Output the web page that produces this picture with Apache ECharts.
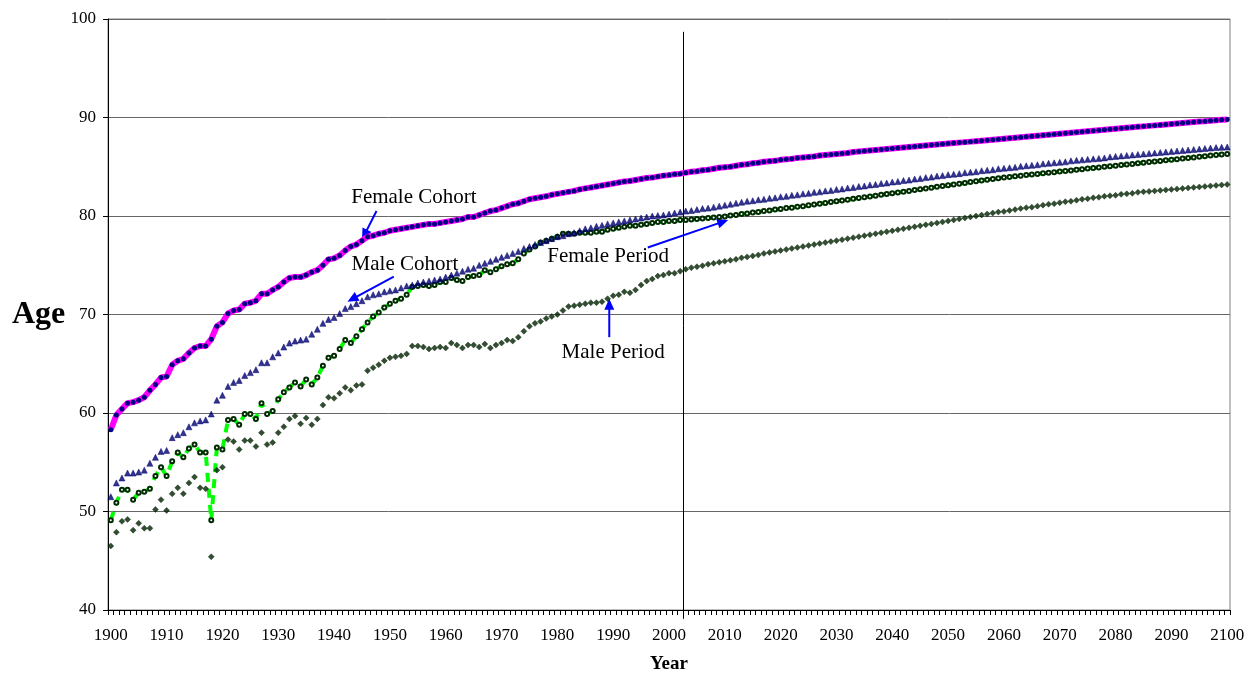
<!DOCTYPE html>
<html>
<head>
<meta charset="utf-8">
<script src="https://cdn.jsdelivr.net/npm/echarts@6/dist/echarts.min.js"></script>
<style>
html,body{margin:0;padding:0;background:#fff;}
#chart{width:1258px;height:679px;}
</style>
</head>
<body>
<div id="chart"></div>
<script>
// ---------- DATA ----------
var years = [];
for (var y = 1900; y <= 2100; y++) years.push(String(y));

var femaleCohort = [
58.3,59.8,60.4,61.0,61.1,61.3,61.6,62.3,62.9,63.6,
63.7,64.9,65.3,65.5,66.1,66.6,66.8,66.8,67.5,68.8,
69.2,70.1,70.4,70.5,71.1,71.2,71.4,72.1,72.1,72.5,
72.8,73.3,73.7,73.8,73.8,74.0,74.3,74.5,75.0,75.6,
75.7,76.0,76.5,76.9,77.1,77.5,77.9,78.0,78.2,78.3,
78.5,78.6,78.7,78.8,78.9,79.0,79.1,79.2,79.2,79.3,
79.4,79.5,79.6,79.7,79.9,79.9,80.1,80.3,80.5,80.6,
80.8,81.0,81.2,81.3,81.5,81.7,81.8,81.9,82.0,82.15,
82.25,82.35,82.45,82.55,82.7,82.8,82.9,83.0,83.1,83.2,
83.3,83.4,83.5,83.55,83.65,83.75,83.85,83.9,84.0,84.1,
84.15,84.25,84.3,84.4,84.5,84.55,84.65,84.7,84.8,84.9,
84.95,85.0,85.1,85.2,85.25,85.35,85.4,85.5,85.55,85.6,
85.7,85.75,85.8,85.9,85.95,86.0,86.05,86.15,86.2,86.25,
86.3,86.35,86.4,86.5,86.55,86.6,86.65,86.7,86.75,86.8,
86.85,86.9,86.95,87.0,87.05,87.1,87.15,87.2,87.25,87.3,
87.35,87.4,87.45,87.5,87.55,87.6,87.65,87.7,87.75,87.8,
87.85,87.9,87.95,88.0,88.05,88.1,88.15,88.2,88.25,88.3,
88.35,88.4,88.45,88.5,88.55,88.6,88.65,88.7,88.75,88.8,
88.85,88.9,88.95,89.0,89.05,89.1,89.15,89.2,89.25,89.3,
89.35,89.4,89.45,89.5,89.55,89.6,89.62,89.67,89.72,89.76,
89.8
];

var maleCohort = [
51.5,52.9,53.4,53.9,53.9,54.0,54.2,54.9,55.5,56.1,
56.2,57.5,57.8,58.0,58.6,59.0,59.2,59.3,59.9,61.3,
61.8,62.7,63.1,63.3,63.8,64.1,64.4,65.1,65.1,65.7,
66.1,66.7,67.1,67.3,67.4,67.5,68.0,68.5,69.1,69.5,
69.7,70.1,70.6,70.8,71.1,71.4,71.8,72.0,72.1,72.3,
72.4,72.5,72.7,72.9,73.0,73.2,73.3,73.4,73.5,73.6,
73.8,74.0,74.2,74.4,74.6,74.7,75.0,75.2,75.4,75.6,
75.8,76.0,76.2,76.4,76.7,76.9,77.1,77.3,77.5,77.7,
77.9,78.0,78.2,78.3,78.5,78.7,78.8,78.95,79.05,79.2,
79.3,79.4,79.5,79.6,79.7,79.8,79.9,80.0,80.05,80.1,
80.2,80.3,80.4,80.5,80.55,80.65,80.75,80.8,80.9,81.0,
81.1,81.2,81.3,81.4,81.5,81.55,81.65,81.7,81.8,81.85,
81.95,82.0,82.1,82.15,82.25,82.3,82.4,82.45,82.55,82.6,
82.7,82.75,82.85,82.9,83.0,83.05,83.15,83.2,83.3,83.35,
83.45,83.5,83.6,83.65,83.75,83.8,83.9,83.95,84.05,84.1,
84.2,84.25,84.3,84.4,84.45,84.5,84.6,84.65,84.7,84.8,
84.85,84.9,84.95,85.05,85.1,85.15,85.2,85.3,85.35,85.4,
85.45,85.5,85.6,85.65,85.7,85.75,85.8,85.85,85.9,86.0,
86.05,86.1,86.15,86.2,86.25,86.3,86.35,86.4,86.45,86.5,
86.55,86.6,86.65,86.7,86.75,86.8,86.85,86.9,86.95,86.98,
87.0
];

var femalePeriod = [
49.1,50.9,52.2,52.2,51.2,51.9,52.0,52.3,53.6,54.5,
53.6,55.1,56.0,55.5,56.4,56.8,56.0,56.0,49.1,56.5,
56.3,59.3,59.4,58.8,59.9,59.9,59.4,61.0,59.9,60.2,
61.4,62.1,62.6,63.1,62.7,63.4,62.9,63.6,64.8,65.6,
65.8,66.5,67.4,67.1,67.8,68.5,69.2,69.8,70.2,70.7,
71.1,71.4,71.6,72.0,72.8,72.9,73.0,72.9,73.0,73.3,
73.3,73.7,73.5,73.4,73.8,73.9,74.0,74.5,74.3,74.6,
74.9,75.1,75.2,75.6,76.2,76.6,76.9,77.3,77.5,77.7,
77.9,78.2,78.2,78.2,78.3,78.3,78.3,78.4,78.4,78.6,
78.7,78.8,78.9,79.0,79.0,79.1,79.2,79.3,79.4,79.4,
79.5,79.5,79.6,79.6,79.65,79.7,79.75,79.8,79.85,79.9,
79.95,80.05,80.1,80.2,80.25,80.35,80.4,80.5,80.55,80.65,
80.7,80.8,80.85,80.95,81.0,81.08,81.16,81.25,81.33,81.41,
81.49,81.57,81.65,81.74,81.82,81.9,81.98,82.06,82.15,82.23,
82.31,82.39,82.47,82.55,82.64,82.72,82.8,82.88,82.96,83.04,
83.12,83.2,83.28,83.36,83.44,83.52,83.6,83.68,83.76,83.84,
83.91,83.97,84.03,84.09,84.15,84.21,84.27,84.33,84.39,84.45,
84.51,84.57,84.63,84.69,84.75,84.81,84.87,84.93,84.99,85.05,
85.11,85.17,85.23,85.29,85.35,85.41,85.47,85.53,85.59,85.65,
85.71,85.77,85.83,85.89,85.95,86.01,86.07,86.13,86.19,86.25,
86.3
];

var malePeriod = [
46.5,47.9,49.0,49.2,48.1,48.8,48.3,48.3,50.2,51.2,
50.1,51.8,52.4,51.8,52.9,53.5,52.4,52.3,45.4,54.2,
54.5,57.3,57.1,56.3,57.2,57.2,56.6,58.0,56.8,57.0,
58.0,58.6,59.4,59.7,58.9,59.5,58.8,59.4,60.8,61.6,
61.5,62.0,62.6,62.3,62.8,62.9,64.3,64.6,64.9,65.3,
65.6,65.7,65.8,66.0,66.8,66.8,66.7,66.5,66.6,66.7,
66.6,67.1,66.9,66.6,66.9,66.9,66.7,67.0,66.6,66.9,
67.1,67.4,67.3,67.7,68.3,68.8,69.1,69.3,69.6,69.8,
70.0,70.4,70.8,70.9,71.0,71.1,71.2,71.2,71.3,71.6,
71.9,72.0,72.3,72.2,72.5,73.0,73.4,73.6,73.9,74.0,
74.2,74.2,74.4,74.6,74.75,74.85,74.95,75.1,75.2,75.3,
75.4,75.5,75.6,75.75,75.85,75.95,76.05,76.2,76.3,76.4,
76.5,76.6,76.7,76.8,76.9,77.0,77.1,77.2,77.3,77.4,
77.5,77.6,77.7,77.8,77.9,78.0,78.1,78.2,78.3,78.4,
78.5,78.6,78.7,78.8,78.9,79.0,79.1,79.2,79.3,79.4,
79.5,79.6,79.7,79.8,79.9,80.0,80.1,80.2,80.3,80.4,
80.45,80.55,80.65,80.75,80.85,80.9,81.0,81.1,81.2,81.25,
81.35,81.45,81.5,81.6,81.7,81.75,81.85,81.9,82.0,82.05,
82.1,82.2,82.25,82.3,82.4,82.45,82.5,82.55,82.6,82.65,
82.7,82.75,82.8,82.85,82.9,82.95,83.0,83.05,83.1,83.15,
83.2
];

var seriesNames = ['Female Cohort', 'Male Cohort', 'Female Period', 'Male Period'];
var yTicks = [40, 50, 60, 70, 80, 90, 100];

// ---------- ANNOTATIONS (category index, value) ----------
var annotations = [
  { text: 'Female Cohort', at: [54.3, 81.85], from: [47.6, 80.5], to: [45.0, 77.6] },
  { text: 'Male Cohort',   at: [52.7, 75.05], from: [50.7, 73.85], to: [42.4, 71.3] },
  { text: 'Female Period', at: [89.1, 75.85], from: [96.2, 76.8], to: [110.6, 79.6] },
  { text: 'Male Period',   at: [90.0, 66.15], from: [89.3, 67.7], to: [89.3, 71.6] }
];
var dividerLine = { x: 102.6, top: 98.7, bottom: 39.1 };

// ---------- CHART ----------
var FONT = "'Liberation Serif','Times New Roman',serif";
var chart = echarts.init(document.getElementById('chart'), null, { renderer: 'canvas' });

var option = {
  animation: false,
  backgroundColor: '#ffffff',
  grid: { left: 108, right: 28, top: 19, bottom: 68, show: true, borderColor: '#808080', borderWidth: 1 },
  xAxis: {
    type: 'category',
    data: years,
    boundaryGap: true,
    name: 'Year',
    nameLocation: 'middle',
    nameGap: 45,
    nameTextStyle: { fontFamily: FONT, fontWeight: 'bold', fontSize: 19, color: '#000' },
    axisLine: { show: true, lineStyle: { color: '#000', width: 1 } },
    axisTick: { show: true, interval: 0, length: 5, lineStyle: { color: '#000' } },
    axisLabel: { interval: 9, fontFamily: FONT, fontSize: 17, color: '#000', margin: 17 },
    splitLine: { show: false }
  },
  yAxis: {
    type: 'value',
    min: yTicks[0],
    max: yTicks[yTicks.length - 1],
    interval: 10,
    axisLine: { show: true, lineStyle: { color: '#000', width: 1 } },
    axisTick: { show: true, length: 5, lineStyle: { color: '#000' } },
    axisLabel: { fontFamily: FONT, fontSize: 17, color: '#000', margin: 12 },
    splitLine: { show: true, lineStyle: { color: '#666', width: 1 } }
  },
  series: [
    {
      name: seriesNames[2], type: 'line', data: femalePeriod, z: 2,
      showSymbol: true, showAllSymbol: true, symbol: 'emptyCircle', symbolSize: 4,
      lineStyle: { color: '#00ff00', width: 4, type: [9, 7] },
      itemStyle: { color: '#002a00', borderColor: '#002a00', borderWidth: 1.3 },
      emphasis: { disabled: true }
    },
    {
      name: seriesNames[3], type: 'scatter', data: malePeriod, z: 3,
      symbol: 'diamond', symbolSize: 6,
      itemStyle: { color: '#002000', borderColor: '#002000', borderWidth: 0.5 },
      emphasis: { disabled: true }
    },
    {
      name: seriesNames[1], type: 'scatter', data: maleCohort, z: 4,
      symbol: 'triangle', symbolSize: 6,
      itemStyle: { color: '#000070', borderColor: '#000070', borderWidth: 0.6 },
      emphasis: { disabled: true }
    },
    {
      name: seriesNames[0], type: 'line', data: femaleCohort, z: 5,
      showSymbol: true, showAllSymbol: true, symbol: 'circle', symbolSize: 5,
      lineStyle: { color: '#ff00ff', width: 6 },
      itemStyle: { color: '#000080' },
      emphasis: { disabled: true }
    }
  ]
};
chart.setOption(option);

function toPx(pt) {
  var k0 = Math.floor(pt[0]), f = pt[0] - k0;
  var a = chart.convertToPixel({ xAxisIndex: 0, yAxisIndex: 0 }, [k0, pt[1]]);
  var b = chart.convertToPixel({ xAxisIndex: 0, yAxisIndex: 0 }, [k0 + 1, pt[1]]);
  return [a[0] + (b[0] - a[0]) * f, a[1]];
}

function arrow(from, to, color) {
  var p0 = toPx(from), p1 = toPx(to);
  var dx = p1[0] - p0[0], dy = p1[1] - p0[1];
  var len = Math.sqrt(dx * dx + dy * dy);
  var ux = dx / len, uy = dy / len;
  var hl = 11, hw = 5;
  var bx = p1[0] - ux * hl, by = p1[1] - uy * hl;
  return [
    { type: 'line', silent: true, shape: { x1: p0[0], y1: p0[1], x2: bx + ux * 2, y2: by + uy * 2 },
      style: { stroke: color, lineWidth: 2 } },
    { type: 'polygon', silent: true,
      shape: { points: [[p1[0], p1[1]], [bx - uy * hw, by + ux * hw], [bx + uy * hw, by - ux * hw]] },
      style: { fill: color } }
  ];
}

var gfx = [];
var vt = toPx([dividerLine.x, dividerLine.top]);
var vb = toPx([dividerLine.x, dividerLine.bottom]);
gfx.push({ type: 'line', silent: true, shape: { x1: vt[0], y1: vt[1], x2: vb[0], y2: vb[1] },
  style: { stroke: '#000', lineWidth: 1 }, z: 1 });
annotations.forEach(function (a) {
  var p = toPx(a.at);
  gfx.push({ type: 'text', silent: true, x: p[0], y: p[1], z: 10,
    style: { text: a.text, font: '21px ' + FONT, fill: '#000', align: 'center', verticalAlign: 'middle' } });
  gfx = gfx.concat(arrow(a.from, a.to, '#0000ff'));
});
var mid = toPx([0, 70]);
gfx.push({ type: 'text', silent: true, x: 12, y: mid[1], z: 10,
  style: { text: 'Age', font: 'bold 32px ' + FONT, fill: '#000', align: 'left', verticalAlign: 'middle' } });
chart.setOption({ graphic: gfx });
</script>
</body>
</html>
